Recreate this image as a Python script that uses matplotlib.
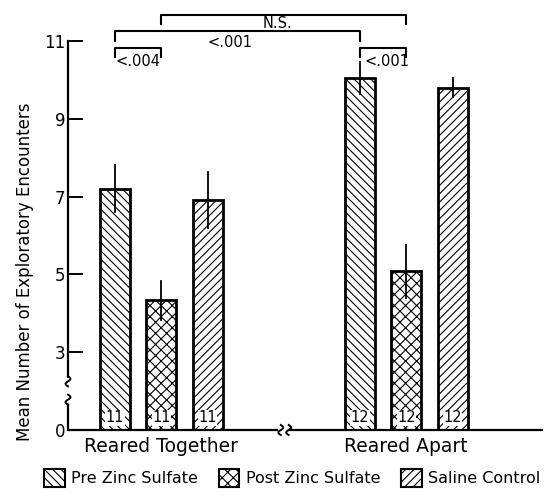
import numpy as np
import matplotlib.pyplot as plt
from matplotlib.patches import Patch

# data (display value 0 sits at the axis break, drawn at 1)
groups = ['Reared Together', 'Reared Apart']
conditions = ['Pre Zinc Sulfate', 'Post Zinc Sulfate', 'Saline Control']
together_means = [7.2, 4.33, 6.9]
together_err = [0.6, 0.5, 0.72]
apart_means = [10.05, 5.08, 9.8]
apart_err = [0.42, 0.68, 0.25]
together_n = [11, 11, 11]
apart_n = [12, 12, 12]

yticks = [1, 3, 5, 7, 9, 11]
ytick_labels = ['0', '3', '5', '7', '9', '11']

hatches = ['\\\\\\\\', 'xxx', '////']
plt.rcParams['hatch.linewidth'] = 0.8
plt.rcParams['font.family'] = 'DejaVu Sans'

fig = plt.figure(figsize=(5.46, 4.97), dpi=100)
ax = fig.add_axes([68 / 546, 67 / 497, 474 / 546, 422 / 497])

x_together = np.arange(3)
x_apart = np.arange(3) + 5.29
width = 0.65

for xs, means, errs, ns in [(x_together, together_means, together_err, together_n),
                            (x_apart, apart_means, apart_err, apart_n)]:
    for i in range(3):
        ax.bar(xs[i], means[i] - 1, width, bottom=1, color='white', edgecolor='black',
               linewidth=2, hatch=hatches[i], zorder=2)
        ax.plot([xs[i], xs[i]], [means[i] - errs[i], means[i] + errs[i]],
                color='black', lw=1.3, zorder=3)
        ax.text(xs[i], 1.31, str(ns[i]), ha='center', va='center', fontsize=10.5,
                bbox=dict(facecolor='white', edgecolor='none', pad=0.3), zorder=4)

xl = (-1.015, 9.22)
yl = (1, 11.846)
ax.set_xlim(xl)
ax.set_ylim(yl)

# pixel -> data scale for small decorations
px_x = (xl[1] - xl[0]) / 474
px_y = (yl[1] - yl[0]) / 422

for s in ['top', 'right', 'bottom', 'left']:
    ax.spines[s].set_visible(False)

def squiggle(x0, y0):
    t = np.linspace(-1, 1, 30)
    xs = x0 + 2.5 * px_x * np.sin(np.pi * t)
    ys = y0 + 5 * px_y * t
    ax.plot(xs, ys, color='black', lw=1.4, clip_on=False, zorder=5)

# left axis with break
ax.plot([xl[0], xl[0]], [2.35, 11], color='black', lw=1.6, clip_on=False)
ax.plot([xl[0], xl[0]], [1, 1.65], color='black', lw=1.6, clip_on=False)
squiggle(xl[0], 2.25)
squiggle(xl[0], 1.78)

# bottom axis with break
ax.plot([xl[0], 3.5], [1, 1], color='black', lw=1.6, clip_on=False)
ax.plot([3.75, xl[1]], [1, 1], color='black', lw=1.6, clip_on=False)
squiggle(3.58, 1)
squiggle(3.75, 1)

ax.set_yticks(yticks)
ax.set_yticklabels(ytick_labels, fontsize=12)
ax.tick_params(axis='y', direction='in', length=11, width=1.4, pad=2)
ax.set_xticks([x_together[1], x_apart[1]])
ax.set_xticklabels(groups, fontsize=13.5)
ax.tick_params(axis='x', length=0, pad=5)

ax.set_ylabel('Mean Number of Exploratory Encounters', fontsize=12)
ax.yaxis.set_label_coords(-0.072, 0.374)

# significance brackets
def bracket(x1, x2, y, leg, text, tx, ty):
    ax.plot([x1, x1, x2, x2], [y - leg, y, y, y - leg], color='black', lw=1.5,
            clip_on=False)
    ax.text(tx, ty, text, ha='center', va='center', fontsize=10.5)

bracket(x_together[0], x_together[1], 10.82, 0.23, '<.004', 0.5, 10.46)
bracket(x_together[0], x_apart[0], 11.26, 0.26, '<.001', 2.48, 10.95)
bracket(x_together[1], x_apart[1], 11.67, 0.23, 'N.S.', 3.5, 11.44)
bracket(x_apart[0], x_apart[1], 10.82, 0.23, '<.001', 5.87, 10.46)

handles = [Patch(facecolor='white', edgecolor='black', hatch=h, linewidth=1.5)
           for h in hatches]
fig.legend(handles, conditions, loc='center', bbox_to_anchor=(0.535, 0.038),
           ncol=3, frameon=False, fontsize=11.5, handlelength=1.3, handleheight=1.3,
           handletextpad=0.4, columnspacing=1.3, borderpad=0)

fig.savefig('out.png', dpi=100)
